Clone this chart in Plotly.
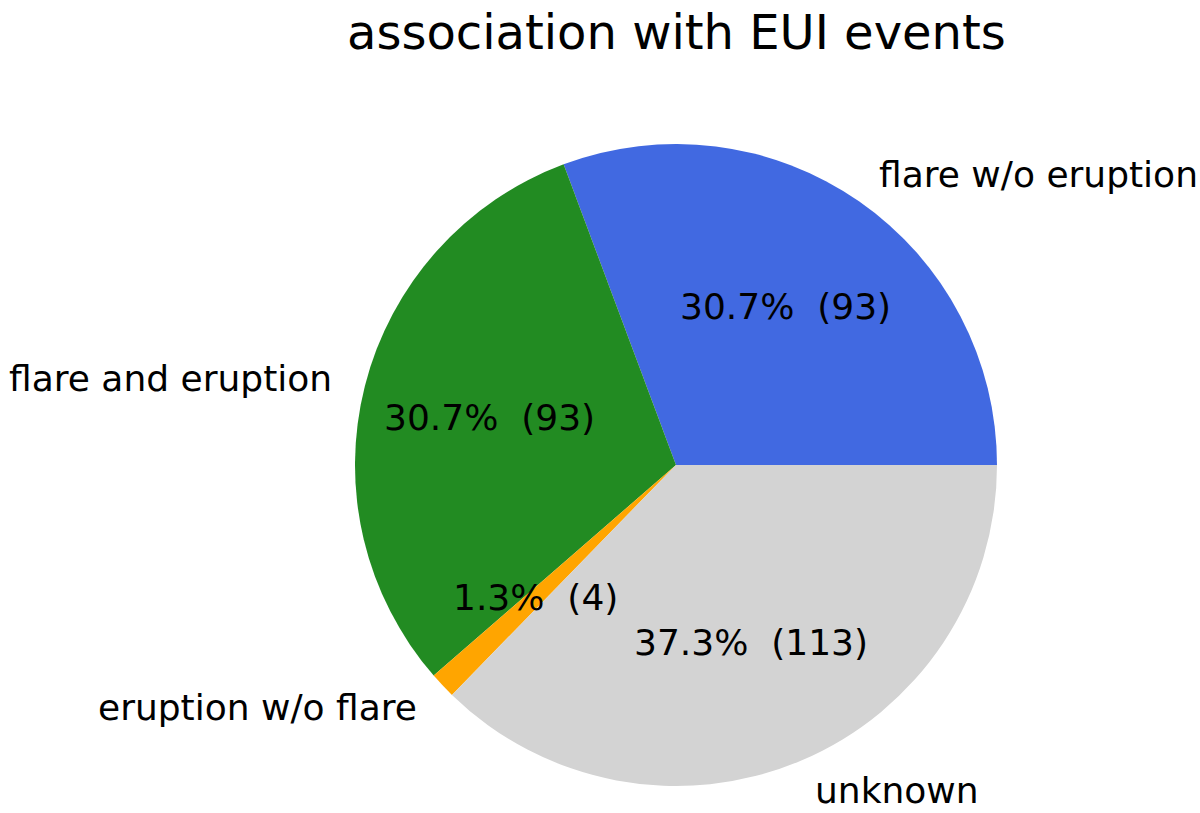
import math
import plotly.graph_objects as go

labels = ["flare w/o eruption", "flare and eruption", "eruption w/o flare", "unknown"]
values = [93, 93, 4, 113]
colors = ["#4169E1", "#228B22", "#FFA500", "#D3D3D3"]
title = "association with EUI events"

W, H = 1200, 813
cx, cy, r = 676, 465, 321
FONT = "DejaVu Sans"

total = sum(values)
# plotly counterclockwise: first slice ends at rotation; make it start at 3 o'clock
rot = 90 - values[0] / total * 360.0

fig = go.Figure(go.Pie(
    labels=labels, values=values, sort=False,
    direction="counterclockwise", rotation=rot,
    marker=dict(colors=colors, line=dict(width=0)),
    textinfo="none", hoverinfo="label+value+percent",
    domain=dict(x=[(cx - r) / W, (cx + r) / W], y=[(H - cy - r) / H, (H - cy + r) / H]),
    showlegend=False,
))

annotations = []
start = 0.0
for lab, v in zip(labels, values):
    ang = start + v / total * 360.0
    mid = math.radians((start + ang) / 2)
    start = ang
    lx = cx + 1.1 * r * math.cos(mid)
    ly = cy - 1.1 * r * math.sin(mid)
    annotations.append(dict(
        x=lx / W, y=1 - ly / H, xref="paper", yref="paper", text=lab,
        showarrow=False, xanchor="left" if math.cos(mid) > 0 else "right", yanchor="middle",
        font=dict(family=FONT, size=36, color="black"),
    ))
    px = cx + 0.6 * r * math.cos(mid)
    py = cy - 0.6 * r * math.sin(mid)
    annotations.append(dict(
        x=px / W, y=1 - py / H, xref="paper", yref="paper",
        text=f"{v / total * 100:.1f}%  ({v})",
        showarrow=False, xanchor="center", yanchor="middle",
        font=dict(family=FONT, size=36, color="black"),
    ))

annotations.append(dict(
    x=cx / W, y=1 - 32 / H, xref="paper", yref="paper", text=title,
    showarrow=False, xanchor="center", yanchor="middle",
    font=dict(family=FONT, size=48, color="black"),
))

fig.update_layout(
    width=W, height=H, margin=dict(l=0, r=0, t=0, b=0),
    paper_bgcolor="white", plot_bgcolor="white",
    annotations=annotations,
)
fig.write_html(
    "out.html",
    config={"displayModeBar": False},
    post_script="document.body.style.margin='0';document.body.style.overflow='hidden';",
)
